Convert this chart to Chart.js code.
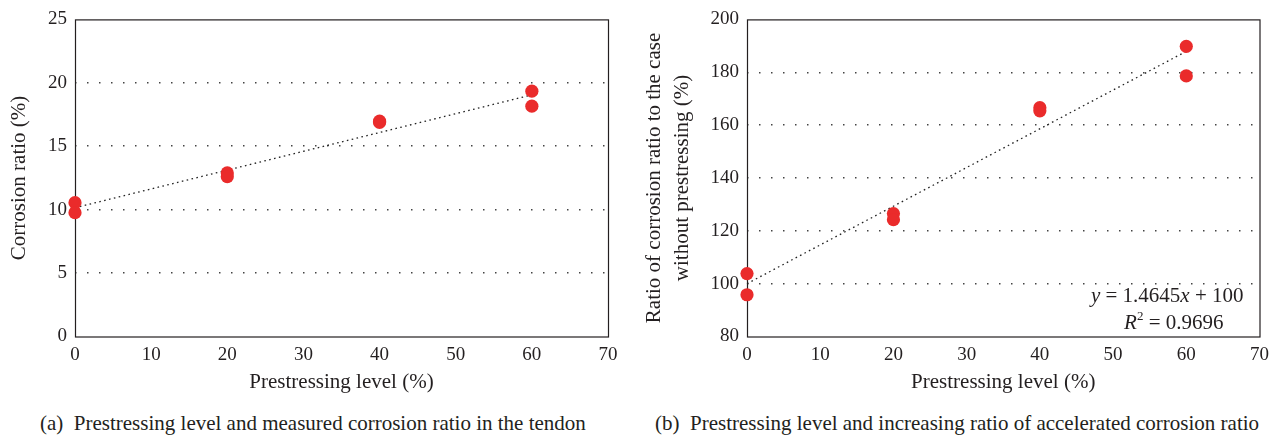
<!DOCTYPE html>
<html>
<head>
<meta charset="utf-8">
<script src="https://cdn.jsdelivr.net/npm/chart.js@4.4.1/dist/chart.umd.min.js"></script>
<style>
  body{margin:0;background:#fff;width:1276px;height:438px;overflow:hidden;position:relative;font-family:"Liberation Serif",serif;color:#231f20}
  canvas{position:absolute;top:0}
  #chartA{left:0}
  #chartB{left:636px}
  .cap{position:absolute;top:411px;font-size:21px;white-space:nowrap}
</style>
</head>
<body>
<canvas id="chartA" width="636" height="400"></canvas>
<canvas id="chartB" width="640" height="400"></canvas>
<div class="cap" style="left:40px">(a)&nbsp; Prestressing level and measured corrosion ratio in the tendon</div>
<div class="cap" style="left:655px">(b)&nbsp; Prestressing level and increasing ratio of accelerated corrosion ratio</div>
<script>
// values
const levels = [0, 0, 20, 20, 40, 40, 60, 60];
const corrosionRatio = [10.55, 9.76, 12.9, 12.6, 16.98, 16.88, 19.34, 18.16];
const increaseRatio = [103.8, 95.8, 126.5, 124.2, 166.6, 165.4, 189.8, 178.6];
const trendX = [0, 60];
const trendA = [10.15, 19.05];
const trendB = [100, 187.9];
const xTicks = [0, 10, 20, 30, 40, 50, 60, 70];
const yTicksA = [0, 5, 10, 15, 20, 25];
const yTicksB = [80, 100, 120, 140, 160, 180, 200];

const RED = '#ea2b2b';
const INK = '#231f20';
const SERIF = '"Liberation Serif", "Times New Roman", serif';

const framePlugin = {
  id: 'frame',
  beforeDatasetsDraw(chart){
    const {ctx, chartArea:a} = chart;
    ctx.save();
    ctx.strokeStyle = INK;
    ctx.lineWidth = 1.2;
    ctx.strokeRect(a.left + 0.5, a.top + 0.5, a.right - a.left, a.bottom - a.top);
    ctx.restore();
  }
};

// draws a line of mixed italic / upright / superscript parts, right aligned
function richText(ctx, parts, xRight, y, size){
  const fontOf = p => (p.i ? 'italic ' : '') + (p.sup ? size*0.62 : size) + 'px ' + SERIF;
  let w = 0;
  parts.forEach(p => { ctx.font = fontOf(p); w += ctx.measureText(p.t).width; });
  let x = xRight - w;
  parts.forEach(p => {
    ctx.font = fontOf(p);
    ctx.fillText(p.t, x, p.sup ? y - size*0.4 : y);
    x += ctx.measureText(p.t).width;
  });
}

const equationPlugin = {
  id: 'equation',
  afterDatasetsDraw(chart){
    const {ctx, chartArea:a} = chart;
    ctx.save();
    ctx.fillStyle = INK;
    ctx.textBaseline = 'alphabetic';
    richText(ctx, [{t:'y', i:true},{t:' = 1.4645'},{t:'x', i:true},{t:' + 100'}], a.right - 16, a.bottom - 35, 21);
    richText(ctx, [{t:'R', i:true},{t:'2', sup:true},{t:' = 0.9696'}], a.right - 36, a.bottom - 8, 21);
    ctx.restore();
  }
};

function makeChart(canvasId, yVals, trendY, yTicks, yTitle, yAxisW, padRight, titleGap, extra){
  const el = document.getElementById(canvasId);
  const pts = levels.map((x, i) => ({x, y: yVals[i]}));
  const trend = trendX.map((x, i) => ({x, y: trendY[i]}));
  const yMin = yTicks[0], yMax = yTicks[yTicks.length - 1];
  return new Chart(el, {
    data: {
      datasets: [
        { type:'scatter', data: pts, backgroundColor: RED, borderWidth:0, pointRadius:6.6, pointHoverRadius:6.6, clip:false, order:0 },
        { type:'line', data: trend, borderColor:'#222', borderWidth:1.3, borderDash:[1.6,3.4], pointRadius:0, fill:false, clip:false, order:1 }
      ]
    },
    options: {
      responsive:false, animation:false, devicePixelRatio:1,
      layout:{ padding:{ left:0, top:17, right:padRight, bottom:0 } },
      plugins:{ legend:{display:false}, tooltip:{enabled:false} },
      scales:{
        x:{
          type:'linear', min:0, max:70,
          afterBuildTicks: s => { s.ticks = xTicks.map(v => ({value:v})); },
          afterFit: s => { s.height = 63.5; },
          grid:{ display:false, drawTicks:false },
          border:{ display:false },
          ticks:{ color:INK, font:{family:SERIF, size:19}, padding:7, maxRotation:0 },
          title:{ display:true, text:'Prestressing level (%)', color:INK, font:{family:SERIF, size:21}, padding:{top:0, bottom:5} }
        },
        y:{
          type:'linear', min:yMin, max:yMax,
          afterBuildTicks: s => { s.ticks = yTicks.map(v => ({value:v})); },
          afterFit: s => { s.width = yAxisW; },
          grid:{ drawTicks:false, lineWidth:1.5, color: c => (c.tick && (c.tick.value === yMin || c.tick.value === yMax)) ? 'rgba(0,0,0,0)' : '#444' },
          border:{ display:false, dash:[1.5,10.5] },
          ticks:{ color:INK, font:{family:SERIF, size:19}, padding:8 },
          title:{ display:true, text:yTitle, color:INK, font:{family:SERIF, size:21, lineHeight:1.33}, padding:{top:titleGap, bottom:0} }
        }
      }
    },
    plugins:[framePlugin].concat(extra || [])
  });
}

makeChart('chartA', corrosionRatio, trendA, yTicksA, 'Corrosion ratio (%)', 75, 28, 6);
makeChart('chartB', increaseRatio, trendB, yTicksB, ['Ratio of corrosion ratio to the case', 'without prestressing (%)'], 111, 16, 5, [equationPlugin]);
</script>
</body>
</html>
